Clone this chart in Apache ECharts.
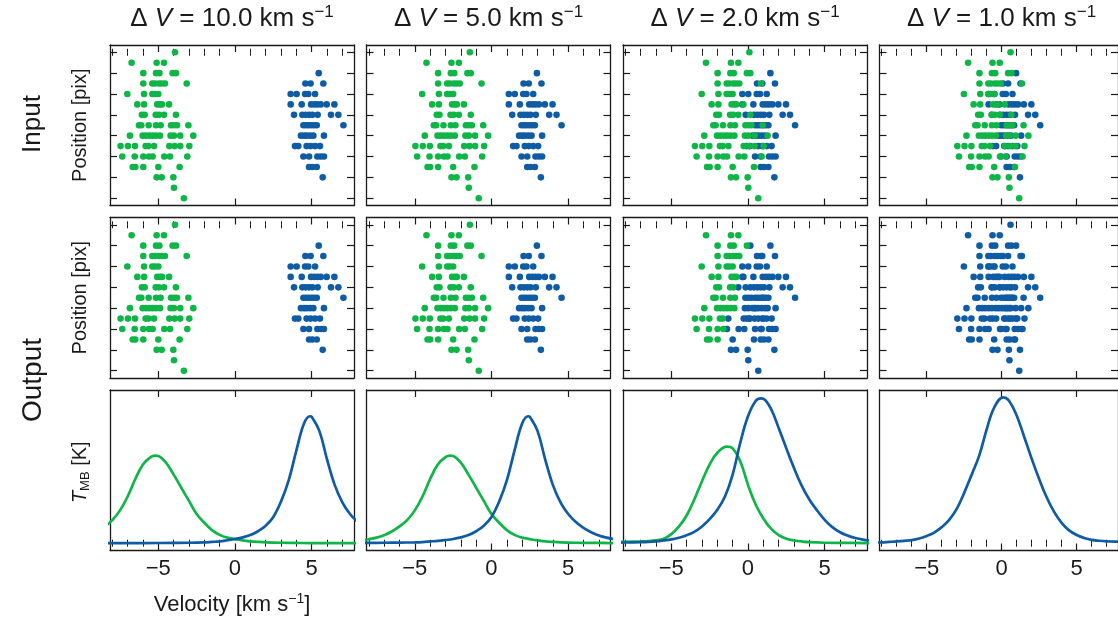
<!DOCTYPE html>
<html>
<head>
<meta charset="utf-8">
<script src="https://cdn.jsdelivr.net/npm/echarts@6/dist/echarts.min.js"></script>
<style>
html, body { margin: 0; padding: 0; background: #ffffff; }
#chart { width: 1118px; height: 620px; }
</style>
</head>
<body>
<div id="chart"></div>
<script>
// Velocity separation of the two components in each column (km/s)
const deltaV = [10.0, 5.0, 2.0, 1.0];

// Axis ticks
const velocityTicks = [-5, 0, 5];
const velocityMinorTicks = [-8, -7, -6, -4, -3, -2, -1, 1, 2, 3, 4, 6, 7];
const positionTicks = [0, 2, 4, 6, 8, 10, 12, 14];

// Pixel rows of component A (green): velocity offsets from its centre, one list per row
const greenRows = [
  [1.09],
  [-1.74, -0.11, 0.37],
  [-0.98, -0.15, 0.07, 0.93, 1.15],
  [-0.98, -0.39, -0.22, 0.04, 0.22, 0.43, 1.85],
  [-2.02, -0.93, -0.39, -0.22, 0.00],
  [-1.37, -0.93, -0.07, 0.11, 0.24, 0.70],
  [-1.07, -0.89, -0.17, 0.04, 0.37, 1.15],
  [-1.26, -1.11, -0.63, -0.15, 0.15, 0.83, 1.02, 1.22, 1.96],
  [-1.85, -1.02, -0.80, -0.59, -0.37, -0.15, 0.11, 0.80, 1.02, 1.43, 2.28],
  [-2.46, -1.98, -1.52, -0.83, -0.65, -0.28, 0.72, 1.07, 1.43, 2.02],
  [-2.35, -1.54, -0.98, -0.61, -0.37, 0.39, 0.76, 1.89],
  [-1.67, -1.50, -0.98, 0.00, 1.39],
  [-0.11, 0.22, 0.98],
  [1.02],
  [1.67]
];

// Pixel rows of component B (blue): velocity offsets from its centre
const blueRows = [
  [],
  [],
  [0.46],
  [-0.41, -0.07, 0.76],
  [-1.37, -0.98, -0.43, -0.22, 0.22],
  [-1.37, -0.65, -0.04, 0.17, 0.37, 0.59, 0.98, 1.48],
  [-1.15, -0.61, -0.39, -0.17, 0.04, 0.39, 1.26, 1.74],
  [-0.54, -0.37, -0.20, -0.02, 0.15, 0.33, 2.07],
  [-0.70, -0.50, -0.33, -0.11, 0.11, 0.80],
  [-1.09, -0.87, -0.33, -0.07, 0.22, 0.54],
  [-0.54, -0.17, 0.37, 0.59, 0.80],
  [-0.17, 0.04, 0.33],
  [0.72],
  [],
  []
];

// Recovered assignment for dV = 2.0: per row, velocities below the cut are A, above are B
// (null: row not recovered)
const outputCutDv2 = [null, 9, 0.05, 0.0, -0.6, -0.55, -0.8, -0.5, -0.5, -1.45, -1.5, -1.5, -9, -9, -9];

// Recovered spectra [velocity km/s, T_MB]
const specA10 = [[-8.5,0.115],[-8,0.158],[-7.5,0.225],[-7,0.32],[-6.5,0.44],[-6,0.54],[-5.5,0.59],[-5.22,0.60],[-5,0.597],[-4.5,0.552],[-4,0.47],[-3.5,0.38],[-3,0.29],[-2.5,0.20],[-2,0.14],[-1.5,0.09],[-1,0.057],[-0.5,0.038],[0,0.028],[0.5,0.019],[1,0.013],[1.5,0.009],[2,0.006],[3,0.003],[4,0.002],[5,0.001],[6,0.001],[8,0.001]];
const specB10 = [[-8.5,0.001],[-6,0.001],[-4,0.002],[-3,0.003],[-2,0.006],[-1.5,0.009],[-1,0.012],[-0.5,0.02],[0,0.029],[0.5,0.04],[1,0.056],[1.5,0.082],[2,0.12],[2.5,0.18],[3,0.285],[3.5,0.43],[4,0.635],[4.5,0.82],[4.89,0.87],[5,0.866],[5.5,0.77],[6,0.575],[6.5,0.40],[7,0.28],[7.5,0.20],[8,0.145]];
const specA5 = [[-8.5,0.018],[-8,0.027],[-7.5,0.038],[-7,0.055],[-6.5,0.08],[-6,0.115],[-5.5,0.158],[-5,0.225],[-4.5,0.32],[-4,0.44],[-3.5,0.54],[-3,0.59],[-2.72,0.60],[-2.5,0.597],[-2,0.552],[-1.5,0.47],[-1,0.38],[-0.5,0.29],[0,0.20],[0.5,0.14],[1,0.09],[1.5,0.057],[2,0.038],[2.5,0.028],[3,0.019],[3.5,0.013],[4,0.009],[4.5,0.006],[5.5,0.003],[6.5,0.002],[8,0.001]];
const specB5 = [[-8.5,0.002],[-7,0.003],[-6,0.004],[-5,0.006],[-4.5,0.008],[-4,0.012],[-3.5,0.016],[-3,0.022],[-2.5,0.029],[-2,0.04],[-1.5,0.056],[-1,0.082],[-0.5,0.12],[0,0.18],[0.5,0.285],[1,0.43],[1.5,0.635],[2,0.82],[2.39,0.87],[2.5,0.866],[3,0.77],[3.5,0.575],[4,0.40],[4.5,0.28],[5,0.20],[5.5,0.145],[6,0.105],[6.5,0.075],[7,0.053],[7.5,0.038],[8,0.028]];
const specA2 = [[-8.5,0.009],[-8,0.01],[-7,0.012],[-6.5,0.014],[-6,0.019],[-5.5,0.03],[-5,0.062],[-4.5,0.115],[-4,0.19],[-3.5,0.30],[-3,0.425],[-2.5,0.54],[-2,0.62],[-1.39,0.662],[-1,0.65],[-0.5,0.56],[0,0.40],[0.5,0.265],[1,0.17],[1.5,0.10],[2,0.056],[2.5,0.031],[3,0.019],[3.5,0.012],[4,0.007],[5,0.003],[6,0.002],[8,0.001]];
const specB2 = [[-8.5,0.004],[-8,0.005],[-7,0.007],[-6.5,0.009],[-6,0.013],[-5.5,0.019],[-5,0.026],[-4.5,0.037],[-4,0.055],[-3.5,0.078],[-3,0.115],[-2.5,0.165],[-2,0.23],[-1.5,0.32],[-1,0.47],[-0.5,0.69],[0,0.87],[0.5,0.975],[0.85,0.992],[1,0.99],[1.5,0.92],[2,0.79],[2.5,0.65],[3,0.515],[3.5,0.395],[4,0.30],[4.5,0.225],[5,0.16],[5.5,0.11],[6,0.075],[6.5,0.052],[7,0.036],[7.5,0.025],[8,0.018]];
const specB1 = [[-8.5,0.004],[-8,0.006],[-7.5,0.009],[-7,0.012],[-6.5,0.016],[-6,0.021],[-5.5,0.032],[-5,0.05],[-4.5,0.073],[-4,0.11],[-3.5,0.16],[-3,0.235],[-2.5,0.345],[-2,0.47],[-1.5,0.60],[-1,0.78],[-0.5,0.93],[0.11,1.0],[0.5,0.975],[1,0.875],[1.5,0.73],[2,0.58],[2.5,0.44],[3,0.315],[3.5,0.215],[4,0.14],[4.5,0.088],[5,0.056],[5.5,0.036],[6,0.023],[6.5,0.017],[7,0.013],[7.5,0.011],[8,0.009]];

const spectraA = [specA10, specA5, specA2, null];
const spectraB = [specB10, specB5, specB2, specB1];

// ---- layout & style ----
const GREEN = '#10b548';
const BLUE = '#0f5ca5';
const INK = '#1a1a1a';
const FONT = '"Liberation Sans", Arial, Helvetica, sans-serif';
const colLeft = [110, 366.5, 623, 879.5];
const rowTop = [45, 217.5, 390];
const W = 244, H = 160.5;
const VMIN = -8.15, VMAX = 7.76;

const grids = [], xAxes = [], yAxes = [], series = [];

function pointsFromRows(rows, centre) {
  const out = [];
  rows.forEach((list, r) => list.forEach(dv => out.push([centre + dv, r])));
  return out;
}

function xAxisPair(g, pos, withLabels) {
  const major = {
    gridIndex: g, type: 'value', position: pos, min: VMIN, max: VMAX,
    axisLine: { show: true, onZero: false, lineStyle: { color: INK, width: 1.3 } },
    axisTick: { show: true, inside: true, length: 7, customValues: velocityTicks, lineStyle: { color: INK, width: 1.2 } },
    axisLabel: {
      show: withLabels, customValues: velocityTicks, margin: 7, color: INK,
      fontFamily: FONT, fontSize: 22,
      formatter: v => (v < 0 ? '\u2212' + Math.abs(v) : String(v))
    },
    splitLine: { show: false }
  };
  const minor = {
    gridIndex: g, type: 'value', position: pos, min: VMIN, max: VMAX,
    axisLine: { show: false },
    axisTick: { show: true, inside: true, length: 3.5, customValues: velocityMinorTicks, lineStyle: { color: INK, width: 1 } },
    axisLabel: { show: false },
    splitLine: { show: false }
  };
  xAxes.push(major);
  const idx = xAxes.length - 1;
  xAxes.push(minor);
  return idx;
}

function yAxisFor(g, pos, scatterRow) {
  const a = {
    gridIndex: g, type: 'value', position: pos,
    axisLine: { show: true, onZero: false, lineStyle: { color: INK, width: 1.3 } },
    axisLabel: { show: false },
    splitLine: { show: false }
  };
  if (scatterRow) {
    Object.assign(a, { min: -0.7, max: 14.7, inverse: true,
      axisTick: { show: true, inside: true, length: 7, customValues: positionTicks, lineStyle: { color: INK, width: 1.2 } } });
  } else {
    Object.assign(a, { min: -0.05, max: 1.05, axisTick: { show: false } });
  }
  yAxes.push(a);
  return yAxes.length - 1;
}

for (let r = 0; r < 3; r++) {
  for (let c = 0; c < 4; c++) {
    const g = grids.length;
    grids.push({ left: colLeft[c], top: rowTop[r], width: W, height: H, containLabel: false });
    const xi = xAxisPair(g, 'bottom', r === 2);
    xAxisPair(g, 'top', false);
    const yi = yAxisFor(g, 'left', r < 2);
    yAxisFor(g, 'right', r < 2);

    const cA = -deltaV[c] / 2, cB = deltaV[c] / 2;
    if (r < 2) {
      let ptsA = pointsFromRows(greenRows, cA);
      let ptsB = pointsFromRows(blueRows, cB);
      if (r === 1 && c >= 2) {
        const all = ptsA.concat(ptsB);
        if (c === 2) {
          ptsA = all.filter(p => outputCutDv2[p[1]] !== null && p[0] < outputCutDv2[p[1]]);
          ptsB = all.filter(p => outputCutDv2[p[1]] !== null && p[0] >= outputCutDv2[p[1]]);
        } else {
          ptsA = [];
          ptsB = all;
        }
      }
      const base = { type: 'scatter', xAxisIndex: xi, yAxisIndex: yi, symbolSize: 6.6, silent: true, animation: false };
      series.push(Object.assign({}, base, { name: 'B', data: ptsB, itemStyle: { color: BLUE, opacity: 1 } }));
      series.push(Object.assign({}, base, { name: 'A', data: ptsA, itemStyle: { color: GREEN, opacity: 1 } }));
    } else {
      const base = { type: 'line', xAxisIndex: xi, yAxisIndex: yi, smooth: 0.4, showSymbol: false, silent: true, animation: false, clip: true };
      if (spectraA[c]) series.push(Object.assign({}, base, { name: 'A', data: spectraA[c], lineStyle: { color: GREEN, width: 2.7 } }));
      series.push(Object.assign({}, base, { name: 'B', data: spectraB[c], lineStyle: { color: BLUE, width: 2.7 } }));
    }
  }
}

// ---- text ----
const graphics = [];
deltaV.forEach((dv, c) => {
  graphics.push({
    type: 'text', x: colLeft[c] + W / 2, y: 19,
    style: {
      text: '{n|\u0394 }{i|V}{n| = ' + dv.toFixed(1) + ' km s}{sup|\u22121}',
      align: 'center', verticalAlign: 'middle', fill: INK,
      rich: {
        n: { fontFamily: FONT, fontSize: 26, lineHeight: 30, fill: INK },
        i: { fontFamily: FONT, fontSize: 26, fontStyle: 'italic', lineHeight: 30, fill: INK },
        sup: { fontFamily: FONT, fontSize: 17, lineHeight: 17, verticalAlign: 'top', fill: INK }
      }
    }
  });
});
function rotatedLabel(text, x, y, size) {
  graphics.push({ type: 'text', x: x, y: y, rotation: Math.PI / 2,
    style: { text: text, align: 'center', verticalAlign: 'middle', fill: INK, fontFamily: FONT, fontSize: size } });
}
rotatedLabel('Input', 33, 124, 26);
rotatedLabel('Output', 33, 380, 28);
rotatedLabel('Position [pix]', 80, rowTop[0] + H / 2, 20);
rotatedLabel('Position [pix]', 80, rowTop[1] + H / 2, 20);
graphics.push({ type: 'text', x: 80, y: rowTop[2] + H / 2 + 2, rotation: Math.PI / 2,
  style: { text: '{i|T}{sub|MB}{n| [K]}', align: 'center', verticalAlign: 'middle', fill: INK,
    rich: {
      i: { fontFamily: FONT, fontSize: 20, fontStyle: 'italic', lineHeight: 24, fill: INK },
      n: { fontFamily: FONT, fontSize: 20, lineHeight: 24, fill: INK },
      sub: { fontFamily: FONT, fontSize: 13, lineHeight: 13, verticalAlign: 'bottom', fill: INK }
    } } });
graphics.push({ type: 'text', x: colLeft[0] + W / 2, y: 605,
  style: { text: '{n|Velocity [km s}{sup|\u22121}{n|]}', align: 'center', verticalAlign: 'middle', fill: INK,
    rich: {
      n: { fontFamily: FONT, fontSize: 22, lineHeight: 26, fill: INK },
      sup: { fontFamily: FONT, fontSize: 14, lineHeight: 14, verticalAlign: 'top', fill: INK }
    } } });

const chart = echarts.init(document.getElementById('chart'), null, { renderer: 'canvas' });
chart.setOption({
  backgroundColor: '#ffffff',
  animation: false,
  grid: grids,
  xAxis: xAxes,
  yAxis: yAxes,
  series: series,
  graphic: graphics
});
</script>
</body>
</html>
